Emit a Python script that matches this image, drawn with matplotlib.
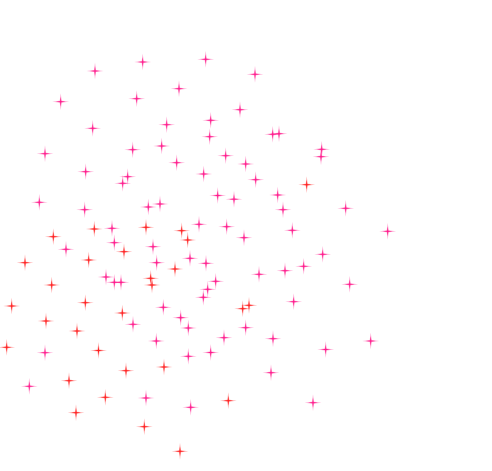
import numpy as np
import matplotlib
matplotlib.use('Agg')
from matplotlib import pyplot as plt
from matplotlib.path import Path

# 点的坐标（从图上读出，y 向上）
x_vals = [142.7, 95, 179, 60.7, 136.7, 166.7, 92.7, 161.7, 132.7, 45, 176.7, 85.7, 127.7, 122.7,
          205.7, 255, 240, 210.7, 209.7, 272.7, 279, 321.7, 321, 225.7, 245.7, 203.7, 255.7, 306.7,
          217.7, 234, 277.7, 39.3, 84.7, 148.3, 160, 94.3, 112, 146, 181.7, 199, 53.3, 187.7,
          114.3, 66, 124, 153, 190, 25, 88.7, 156.7, 175, 106, 114.3, 121, 150.7, 152, 51.7,
          11.7, 85.3, 163.3, 122.3, 46, 133, 180.7, 188.3, 77, 156.3, 6.7, 45, 98.5,
          283, 345.7, 226.7, 292.3, 387.7, 244, 322.7, 206, 303.7, 285, 259, 349.7, 215.7, 207.7,
          203.3, 293.7, 249, 242.7, 245.7, 224, 273, 370.7, 210.7, 325.7, 188.3, 126, 164, 69,
          29.3, 105.3, 146, 190.7, 76, 144.3, 180, 271, 228.3, 313]
y_px = [62, 71, 88.7, 101.7, 98.7, 124.7, 128.3, 146, 149.7, 153.7, 162.7, 171.7, 176.7, 183.3,
        59.3, 74.3, 109.7, 120.3, 136.7, 134.3, 133.7, 149.3, 156.7, 155.7, 164, 174, 179.7, 184.7,
        195.5, 199.2, 195, 202.3, 209.7, 207, 204, 229, 228.3, 227.3, 230.7, 224.3, 236.7, 240,
        242.7, 249.3, 251.7, 246.7, 258.3, 262.7, 260, 262.7, 269, 277, 282.3, 282.3, 278.3, 285, 285,
        306, 302.7, 307.3, 313, 321, 324.3, 317.7, 328, 331, 341, 347.3, 352.7, 350.5,
        209.7, 208.3, 226.7, 230.3, 231.3, 237.7, 254.3, 263.3, 266.3, 270.7, 274.3, 284.3, 281.3, 289.3,
        297.3, 301.7, 305.3, 308.7, 327.7, 337.7, 338.7, 341, 352.5, 349.5, 356.3, 370.7, 367, 380.7,
        386.3, 397.3, 398, 407.3, 412.7, 426.7, 451.3, 372.7, 400.7, 402.7]
y_vals = [471 - v for v in y_px]
groups = list('pppppppppppppp'
              'pppppppppppppr'
              'ppppppprprrprr'
              'pprpprrprppprrr'
              'rrprrppprprpr'
              'pppppppppppppppp'
              'rrppppppprrr'
              'prpprrrprp')

colors = {'p': '#ff0a84', 'r': '#ff1010'}

# 四角星标记
w = 0.12
star = Path([(0, 1), (w, w), (1, 0), (w, -w), (0, -1), (-w, -w), (-1, 0), (-w, w), (0, 1)],
            [Path.MOVETO] + [Path.LINETO] * 7 + [Path.CLOSEPOLY])

fig = plt.figure(figsize=(4.92, 4.71), dpi=100)
ax = fig.add_axes([0, 0, 1, 1])
c = [colors[g] for g in groups]
ax.scatter(x_vals, y_vals, s=12 ** 2, marker=star, c=c, alpha=0.35, linewidths=0)
ax.scatter(x_vals, y_vals, s=7 ** 2, marker=star, c=c, alpha=0.9, linewidths=0)
ax.set_xlim(0, 492)
ax.set_ylim(0, 471)
ax.axis('off')
fig.savefig('out.png', dpi=100)
